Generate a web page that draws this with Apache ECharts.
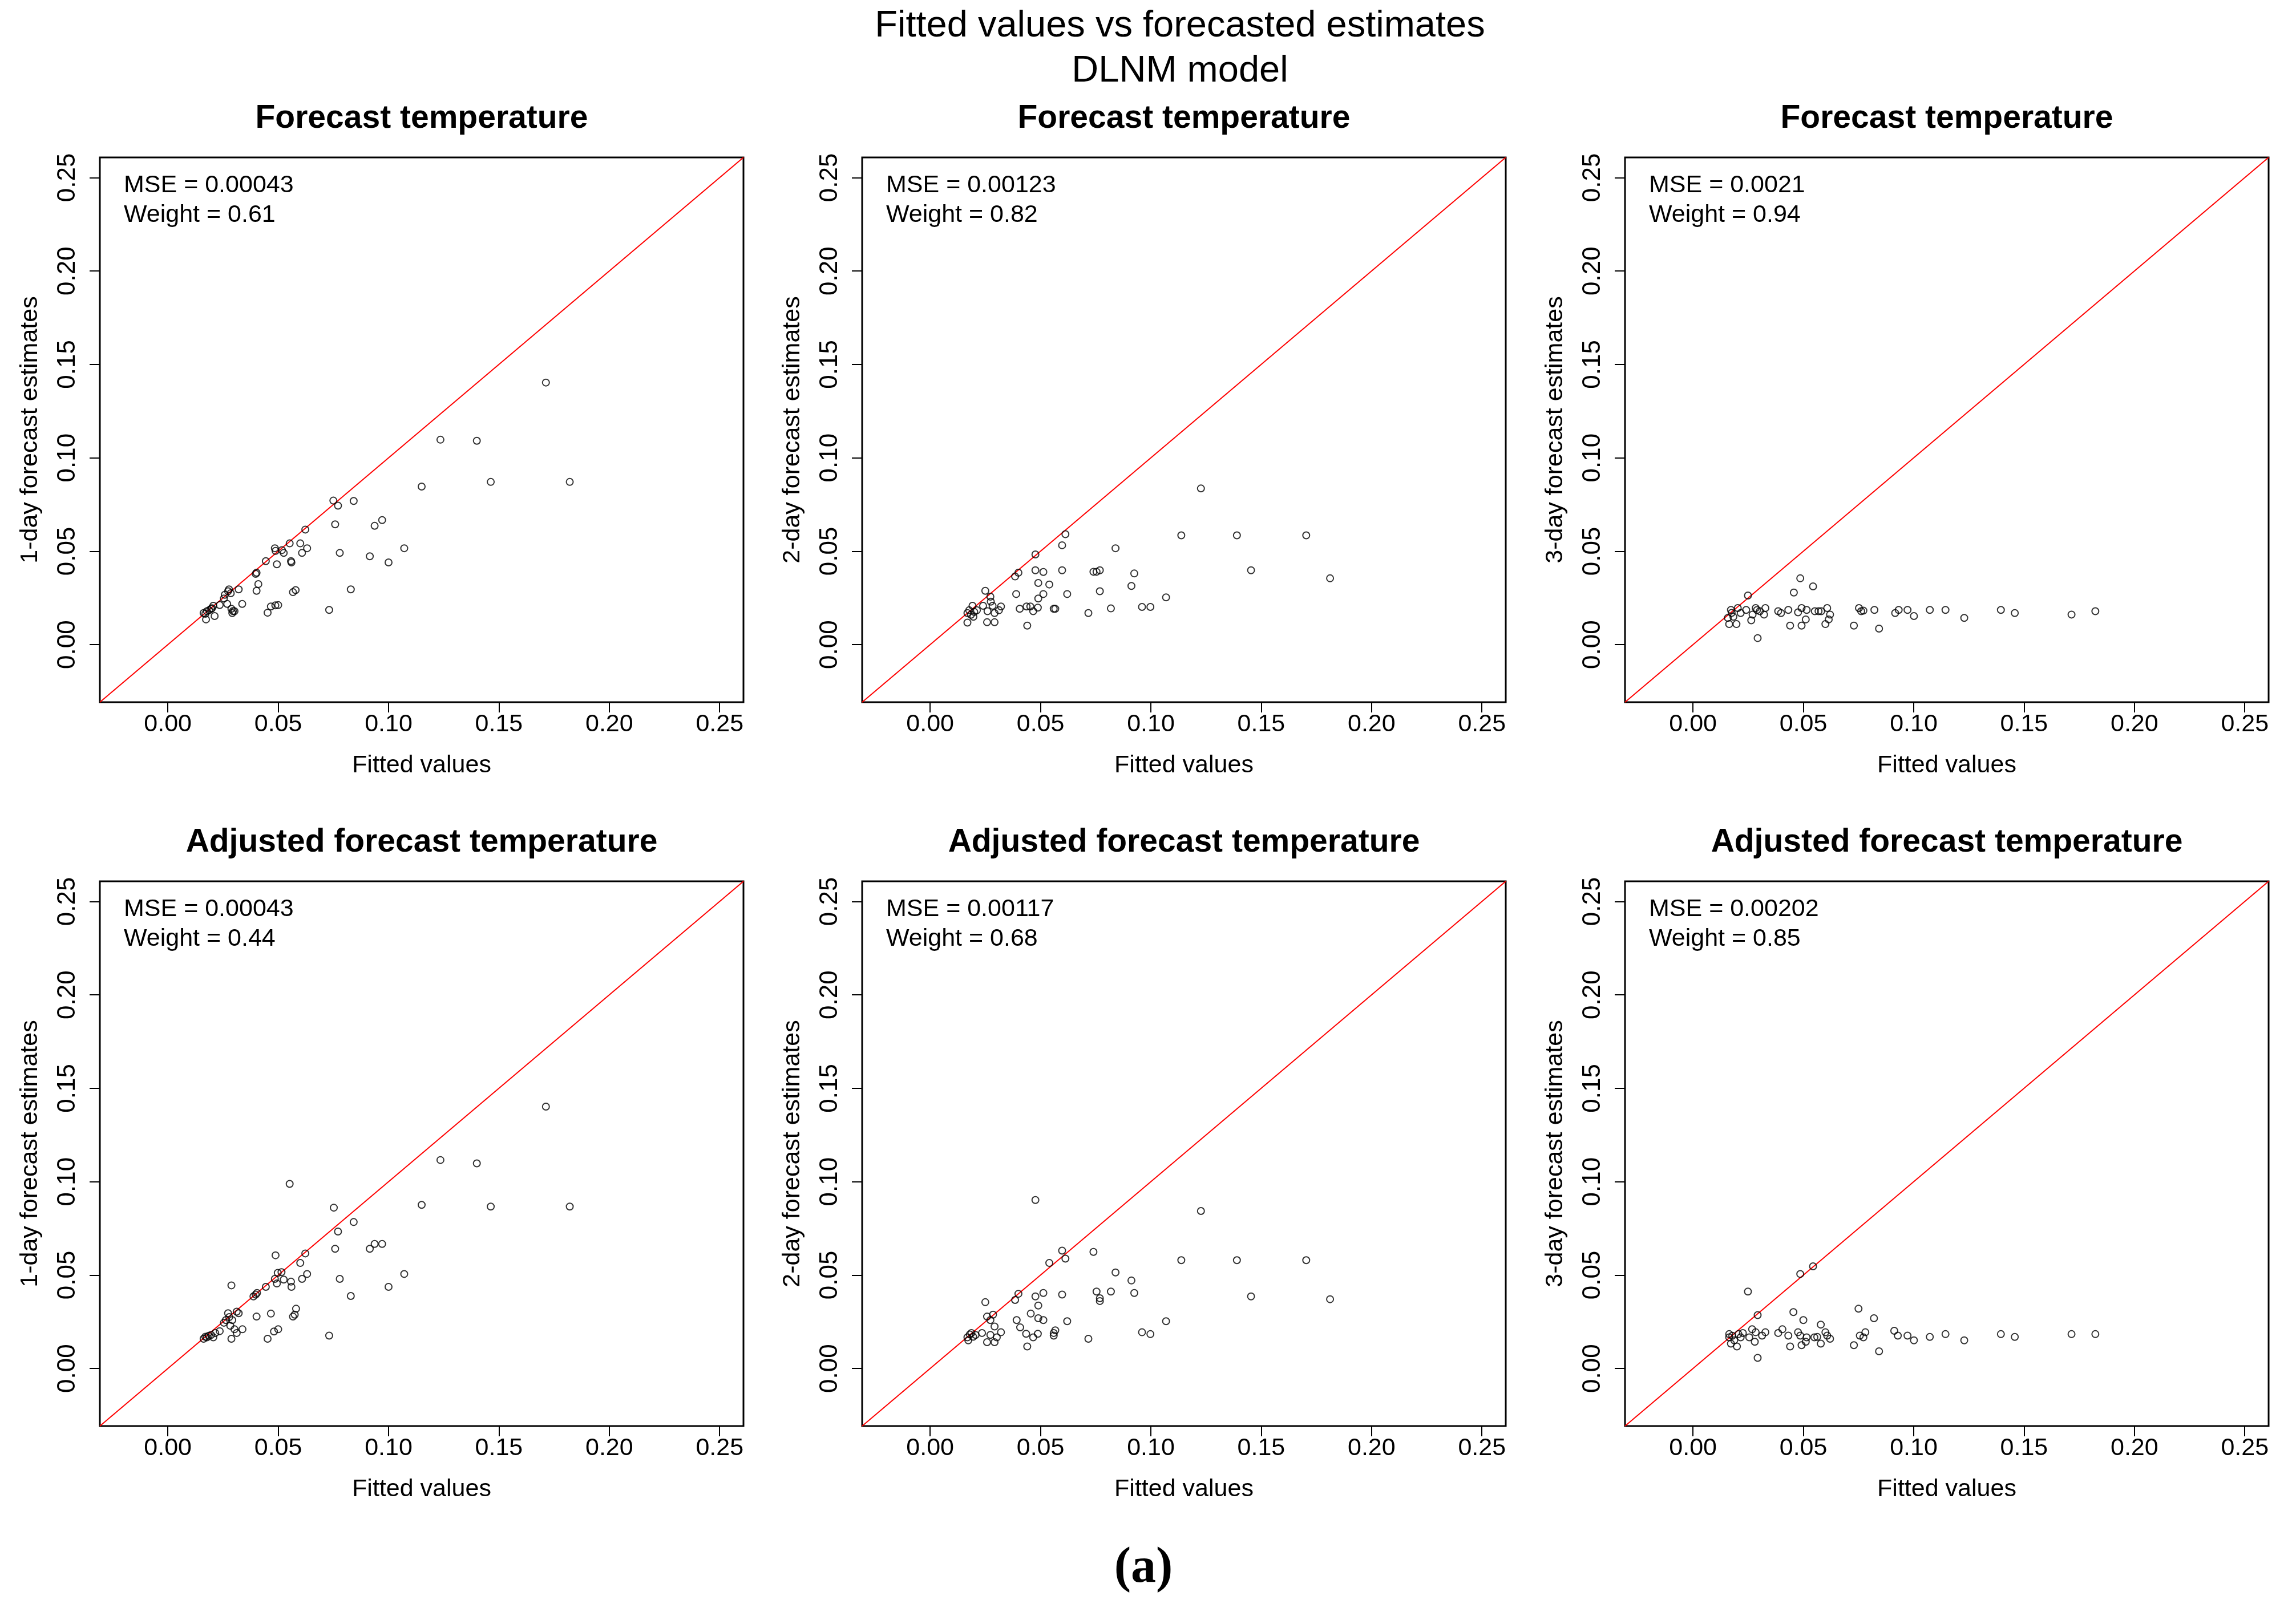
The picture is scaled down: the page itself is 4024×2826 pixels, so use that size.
<!DOCTYPE html>
<html>
<head>
<meta charset="utf-8">
<script src="https://cdn.jsdelivr.net/npm/echarts@6/dist/echarts.min.js"></script>
<style>
html,body{margin:0;padding:0;background:#fff;}
#chart{width:4024px;height:2826px;}
</style>
</head>
<body>
<div id="chart"></div>
<script>
// ---- data (fitted value, forecast estimate) ----
const fc1 = [
[0.1713,0.1403],[0.1235,0.1097],[0.140,0.1091],[0.115,0.0846],[0.1463,0.0871],[0.1821,0.0871],
[0.075,0.0771],[0.0771,0.0744],[0.0842,0.0769],[0.0623,0.0616],[0.0758,0.0644],[0.0937,0.0636],
[0.0971,0.0667],[0.0552,0.0542],[0.060,0.0542],[0.0631,0.0516],[0.0608,0.0491],[0.0485,0.0516],
[0.0488,0.0502],[0.0517,0.0506],[0.0525,0.0491],[0.0779,0.0491],[0.1071,0.0516],[0.0915,0.0473],
[0.100,0.044],[0.0444,0.0447],[0.0494,0.043],[0.0558,0.0447],[0.056,0.044],[0.0398,0.0379],
[0.0402,0.0385],[0.041,0.0324],[0.0402,0.0288],[0.0567,0.0281],[0.0579,0.0292],[0.0829,0.0296],
[0.0731,0.0186],[0.0452,0.0171],[0.0467,0.0204],[0.0487,0.021],[0.050,0.0212],[0.0321,0.0296],
[0.0337,0.0218],[0.0302,0.0179],[0.0292,0.0169],[0.0288,0.0192],[0.0273,0.0286],[0.0258,0.0267],
[0.0277,0.0296],[0.0254,0.0247],[0.0269,0.0218],[0.0235,0.0212],[0.0206,0.0208],[0.0196,0.0192],
[0.0177,0.0179],[0.0173,0.0135],[0.0212,0.0153],[0.0162,0.0169],[0.0187,0.0184],[0.0200,0.0195],
[0.0170,0.0165],[0.0285,0.0275],[0.0295,0.0180]
];
const fc2 = [
[0.1227,0.0836],[0.0613,0.0591],[0.1138,0.0585],[0.139,0.0585],[0.1704,0.0585],[0.0598,0.0532],
[0.084,0.0516],[0.0477,0.0483],[0.1454,0.0398],[0.1812,0.0355],[0.0385,0.0365],[0.040,0.0385],
[0.0477,0.0398],[0.0513,0.0389],[0.0598,0.0398],[0.074,0.039],[0.0769,0.0398],[0.0754,0.039],
[0.0925,0.0381],[0.049,0.033],[0.054,0.0322],[0.0912,0.0314],[0.0769,0.0286],[0.0621,0.0271],
[0.0513,0.0271],[0.039,0.0271],[0.049,0.0247],[0.1069,0.0253],[0.096,0.0202],[0.0998,0.0202],
[0.0819,0.0194],[0.0717,0.0169],[0.056,0.0192],[0.0567,0.0192],[0.0406,0.0192],[0.0437,0.0204],
[0.0454,0.0204],[0.0488,0.0198],[0.0467,0.0179],[0.044,0.0102],[0.025,0.0288],[0.0273,0.0257],
[0.0283,0.0208],[0.0321,0.0204],[0.0312,0.0184],[0.0292,0.0169],[0.0258,0.012],[0.0292,0.012],
[0.024,0.0208],[0.0212,0.0184],[0.0192,0.0208],[0.0169,0.0169],[0.0169,0.0118],[0.0196,0.0149],
[0.0177,0.0184],[0.026,0.0179],[0.0185,0.0160],[0.0200,0.0175],[0.0275,0.0230]
];
const fc3 = [
[0.0486,0.0355],[0.0544,0.0312],[0.0457,0.0279],[0.0249,0.0263],[0.1823,0.0179],[0.1715,0.0161],
[0.1458,0.0169],[0.1395,0.0186],[0.1229,0.0143],[0.1144,0.0186],[0.1073,0.0186],[0.1001,0.0153],
[0.0972,0.0186],[0.0932,0.0186],[0.0916,0.0169],[0.0843,0.0086],[0.0822,0.0186],[0.0772,0.0182],
[0.0752,0.0196],[0.0762,0.0179],[0.0729,0.0102],[0.0621,0.0161],[0.0608,0.0196],[0.060,0.011],
[0.0615,0.0135],[0.0581,0.0179],[0.0569,0.0179],[0.0552,0.0179],[0.0515,0.0186],[0.0492,0.0196],
[0.0476,0.0173],[0.0511,0.0135],[0.0492,0.0102],[0.044,0.0102],[0.0432,0.0186],[0.0399,0.0169],
[0.0386,0.0179],[0.0328,0.0196],[0.0322,0.0161],[0.0293,0.0035],[0.0284,0.0196],[0.027,0.0161],
[0.0264,0.013],[0.0241,0.0186],[0.0216,0.0169],[0.0197,0.011],[0.0164,0.011],[0.0172,0.0186],
[0.0183,0.0149],[0.0158,0.0143],[0.0303,0.0179],[0.0203,0.0196],[0.0175,0.0170],[0.0290,0.0185]
];
const adj1 = [
[0.1713,0.1402],[0.1235,0.1116],[0.140,0.1098],[0.0552,0.0988],[0.0752,0.0861],[0.115,0.0876],
[0.1463,0.0867],[0.1821,0.0867],[0.0842,0.0784],[0.0771,0.0733],[0.0758,0.0641],[0.0623,0.0616],
[0.0488,0.0606],[0.0915,0.0641],[0.0937,0.0667],[0.0971,0.0667],[0.060,0.0565],[0.0631,0.0506],
[0.0608,0.048],[0.0779,0.048],[0.1071,0.0506],[0.100,0.0437],[0.0829,0.0388],[0.0498,0.0512],
[0.0515,0.0516],[0.0485,0.048],[0.0494,0.0455],[0.0525,0.0476],[0.0558,0.0465],[0.056,0.0437],
[0.0444,0.0437],[0.0288,0.0445],[0.0398,0.0396],[0.0388,0.0386],[0.0404,0.0404],[0.0402,0.0278],
[0.0467,0.0294],[0.0581,0.032],[0.0567,0.0278],[0.0575,0.0288],[0.0731,0.0176],[0.0452,0.0159],
[0.0481,0.0198],[0.050,0.021],[0.0321,0.0296],[0.0273,0.0296],[0.0312,0.0304],[0.0263,0.0259],
[0.0254,0.0245],[0.0292,0.0259],[0.0283,0.0229],[0.0302,0.021],[0.0338,0.021],[0.0312,0.019],
[0.0288,0.0159],[0.0235,0.020],[0.0215,0.019],[0.0196,0.018],[0.0177,0.0167],[0.0162,0.0159],
[0.0206,0.0167],[0.0185,0.0175],[0.0170,0.0170],[0.0278,0.0275]
];
const adj2 = [
[0.0477,0.0902],[0.1227,0.0843],[0.0598,0.0631],[0.074,0.0624],[0.054,0.0565],[0.0613,0.0588],
[0.1138,0.058],[0.139,0.058],[0.1704,0.058],[0.084,0.0514],[0.0912,0.0471],[0.040,0.040],
[0.0385,0.0367],[0.0477,0.0386],[0.0513,0.0404],[0.0598,0.0396],[0.0754,0.0412],[0.0819,0.0412],
[0.0925,0.0404],[0.0769,0.0376],[0.0769,0.0361],[0.1454,0.0386],[0.1812,0.0371],[0.025,0.0355],
[0.049,0.0337],[0.0456,0.0294],[0.049,0.0269],[0.0513,0.0259],[0.0392,0.0259],[0.0621,0.0253],
[0.1069,0.0253],[0.0408,0.022],[0.0435,0.0186],[0.0488,0.0186],[0.0467,0.0167],[0.056,0.019],
[0.0567,0.0204],[0.056,0.0176],[0.096,0.0194],[0.0998,0.0184],[0.0717,0.0159],[0.044,0.0118],
[0.0258,0.0278],[0.0285,0.0288],[0.0273,0.0259],[0.0292,0.0225],[0.0321,0.0194],[0.0302,0.0167],
[0.0258,0.0141],[0.0292,0.0141],[0.0235,0.019],[0.0206,0.018],[0.0187,0.019],[0.0169,0.0167],
[0.0173,0.0151],[0.0273,0.018],[0.0195,0.0170],[0.0180,0.0182]
];
const adj3 = [
[0.0544,0.0547],[0.0486,0.0506],[0.0249,0.0412],[0.0293,0.0286],[0.0455,0.0302],[0.050,0.0259],
[0.0579,0.0235],[0.075,0.032],[0.082,0.0269],[0.0912,0.0202],[0.0928,0.0176],[0.0972,0.0176],
[0.1001,0.0151],[0.1073,0.0169],[0.1144,0.0184],[0.1229,0.0151],[0.1395,0.0184],[0.1458,0.0169],
[0.1715,0.0184],[0.1823,0.0184],[0.0843,0.0092],[0.0729,0.0125],[0.0781,0.0194],[0.0772,0.0167],
[0.0756,0.0176],[0.0621,0.0159],[0.060,0.0194],[0.0608,0.0176],[0.0579,0.0133],[0.0563,0.0169],
[0.055,0.0167],[0.0515,0.0167],[0.0511,0.0143],[0.0492,0.0125],[0.0476,0.0194],[0.0486,0.0176],
[0.044,0.0118],[0.0432,0.0176],[0.0405,0.021],[0.0386,0.019],[0.0328,0.0194],[0.0313,0.0176],
[0.0293,0.0057],[0.0284,0.0194],[0.0268,0.021],[0.028,0.0143],[0.0255,0.0167],[0.0226,0.019],
[0.0216,0.0167],[0.0199,0.0118],[0.0187,0.0151],[0.0164,0.0167],[0.0172,0.0133],[0.0164,0.0184],
[0.0206,0.0184],[0.0178,0.0175]
];
const panelData = [fc1, fc2, fc3, adj1, adj2, adj3];
const panelTitles = ["Forecast temperature","Forecast temperature","Forecast temperature",
  "Adjusted forecast temperature","Adjusted forecast temperature","Adjusted forecast temperature"];
const mseLabels = ["MSE = 0.00043","MSE = 0.00123","MSE = 0.0021","MSE = 0.00043","MSE = 0.00117","MSE = 0.00202"];
const weightLabels = ["Weight = 0.61","Weight = 0.82","Weight = 0.94","Weight = 0.44","Weight = 0.68","Weight = 0.85"];
const yNames = ["1-day forecast estimates","2-day forecast estimates","3-day forecast estimates"];
const xName = "Fitted values";
const tickValues = [0, 0.05, 0.10, 0.15, 0.20, 0.25];
const axisMin = -0.0308, axisMax = 0.2608;
const diagLine = [[axisMin, axisMin],[axisMax, axisMax]];

// ---- layout ----
const FONT = "'Liberation Sans', Arial, sans-serif";
const lefts = [175, 1511, 2848];
const tops = [276, 1545];
const W = 1128, H = 955;

const grids = [], xAxes = [], yAxes = [], series = [], graphics = [];
for (let i = 0; i < 6; i++) {
  const r = Math.floor(i / 3), c = i % 3;
  grids.push({left: lefts[c], top: tops[r], width: W, height: H, show: true,
    borderColor: '#000', borderWidth: 3, backgroundColor: 'transparent', containLabel: false});
  const common = {
    gridIndex: i, type: 'value', min: axisMin, max: axisMax,
    axisLine: {show: false, onZero: false},
    axisTick: {show: true, customValues: tickValues, length: 18, lineStyle: {color: '#000', width: 2}},
    splitLine: {show: false},
    nameLocation: 'middle',
    nameTextStyle: {fontSize: 43, color: '#000', fontFamily: FONT}
  };
  xAxes.push(Object.assign({}, common, {
    position: 'bottom',
    axisLabel: {customValues: tickValues, formatter: v => v.toFixed(2), fontSize: 43, color: '#000', fontFamily: FONT, margin: 18},
    name: xName, nameGap: 90
  }));
  yAxes.push(Object.assign({}, common, {
    position: 'left',
    axisLabel: {customValues: tickValues, formatter: v => v.toFixed(2), fontSize: 44, color: '#000', fontFamily: FONT, margin: 34, rotate: 90},
    name: yNames[c], nameGap: 100, nameRotate: 90
  }));
  series.push({type: 'line', xAxisIndex: i, yAxisIndex: i, data: diagLine, symbol: 'none',
    lineStyle: {color: '#ff0000', width: 2}, silent: true, z: 1, clip: true});
  series.push({type: 'scatter', xAxisIndex: i, yAxisIndex: i, data: panelData[i], symbol: 'circle', symbolSize: 12,
    itemStyle: {color: 'rgba(0,0,0,0)', borderColor: '#000', borderWidth: 2}, z: 2});
  const cx = lefts[c] + W / 2;
  graphics.push({type: 'text', x: cx, y: tops[r] - 68, style: {text: panelTitles[i], fontSize: 57, fontWeight: 'bold',
    fontFamily: FONT, fill: '#000', align: 'center', verticalAlign: 'middle'}});
  graphics.push({type: 'text', x: lefts[c] + 42, y: tops[r] + 49, style: {text: mseLabels[i], fontSize: 43,
    fontFamily: FONT, fill: '#000', align: 'left', verticalAlign: 'middle'}});
  graphics.push({type: 'text', x: lefts[c] + 42, y: tops[r] + 101, style: {text: weightLabels[i], fontSize: 43,
    fontFamily: FONT, fill: '#000', align: 'left', verticalAlign: 'middle'}});
}
graphics.push({type: 'text', x: 2068, y: 46, style: {text: 'Fitted values vs forecasted estimates', fontSize: 65,
  fontFamily: FONT, fill: '#000', align: 'center', verticalAlign: 'middle'}});
graphics.push({type: 'text', x: 2068, y: 125, style: {text: 'DLNM model', fontSize: 65,
  fontFamily: FONT, fill: '#000', align: 'center', verticalAlign: 'middle'}});
graphics.push({type: 'text', x: 2004, y: 2750, style: {text: '(a)', fontSize: 88, fontWeight: 'bold',
  fontFamily: "'Liberation Serif', 'Times New Roman', serif", fill: '#000', align: 'center', verticalAlign: 'middle'}});

const chart = echarts.init(document.getElementById('chart'), null, {renderer: 'canvas'});
chart.setOption({
  backgroundColor: '#fff',
  animation: false,
  textStyle: {fontFamily: FONT},
  grid: grids, xAxis: xAxes, yAxis: yAxes, series: series, graphic: graphics
});
</script>
</body>
</html>
